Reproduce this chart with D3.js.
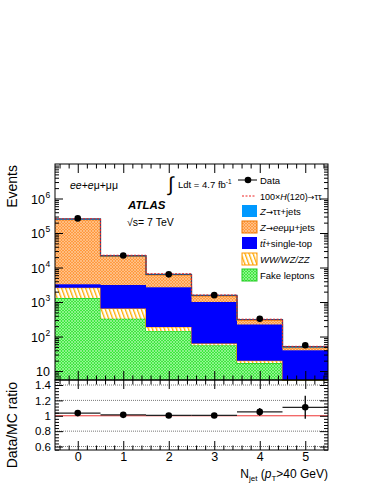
<!DOCTYPE html>
<html>
<head>
<meta charset="utf-8">
<script src="https://cdn.jsdelivr.net/npm/d3@7"></script>
<style>
  body { margin: 0; background: #fff; }
  svg { font-family: "Liberation Sans", Arial, sans-serif; }
  .arr { font-family: "DejaVu Sans", sans-serif; }
</style>
</head>
<body>
<svg id="chart" width="374" height="484"></svg>
<script>
// jet multiplicity bins
const bins = [0, 1, 2, 3, 4, 5];
// stacked backgrounds, bottom to top
const fake  = [1300, 330, 145, 56, 17, 2];
const diboson = [1300, 320, 45, 7, 3, 1];
const ttbar = [700, 2450, 2510, 940, 205, 37];
const zll   = [240000, 18000, 3400, 500, 75, 8];
const ztt   = [12000, 900, 250, 60, 12, 3];
const higgs100 = [3000, 700, 250, 40, 6, 1];
const dataVals = [265000, 22300, 6350, 1580, 325, 56];
// ratio panel
const ratio    = [1.035, 1.012, 1.004, 1.004, 1.05, 1.11];
const ratioErr = [0.005, 0.008, 0.012, 0.02, 0.05, 0.15];
const yTickLabels = [1, 2, 3, 4, 5, 6];
const ratioTicks = [0.6, 0.8, 1, 1.2, 1.4];

const svg = d3.select("#chart");
const pL = 55, pR = 328, pT = 164, pM = 380, pB = 450;

const x = d3.scaleLinear().domain([-0.5, 5.5]).range([pL, pR]);
const y = d3.scaleLog().domain([5.5, 1e7]).range([pM, pT]).clamp(true);
const yr = d3.scaleLinear().domain([0.555, 1.465]).range([pB, pM]);

// patterns
const defs = svg.append("defs");
function cross(id, base, line) {
  const p = defs.append("pattern").attr("id", id).attr("patternUnits", "userSpaceOnUse")
    .attr("width", 3).attr("height", 3);
  p.append("rect").attr("width", 3).attr("height", 3).attr("fill", base);
  p.append("path").attr("d", "M0,0L3,3M3,0L0,3").attr("stroke", line).attr("stroke-width", 0.6);
}
cross("pZll", "#ff9a40", "#ffd2a6");
cross("pFake", "#3ee83e", "#b8f8b8");
const ph = defs.append("pattern").attr("id", "pWW").attr("patternUnits", "userSpaceOnUse")
  .attr("width", 4).attr("height", 10).attr("patternTransform", "skewX(20)");
ph.append("rect").attr("width", 4).attr("height", 10).attr("fill", "#fff");
ph.append("rect").attr("width", 1.4).attr("height", 10).attr("fill", "#ffaa00");

const table = bins.map((b, i) => ({ bin: b, fake: fake[i], ww: diboson[i], tt: ttbar[i], zll: zll[i], ztt: ztt[i] }));
const layers = d3.stack().keys(["fake", "ww", "tt", "zll", "ztt"])(table);
const styles = {
  fake: { fill: "url(#pFake)", stroke: "#22cc22" },
  ww:   { fill: "url(#pWW)", stroke: "#ff9900" },
  tt:   { fill: "#0000ff", stroke: "#0000ee" },
  zll:  { fill: "url(#pZll)", stroke: "#ee7700" },
  ztt:  { fill: "#0099ff", stroke: "#1a5080" }
};

function stepPts(layer) {
  const pts = [];
  layer.forEach((d, i) => {
    pts.push({ x: bins[i] - 0.5, y0: Math.max(d[0], 1), y1: d[1] });
    pts.push({ x: bins[i] + 0.5, y0: Math.max(d[0], 1), y1: d[1] });
  });
  return pts;
}
const area = d3.area().x(d => x(d.x)).y0(d => y(d.y0)).y1(d => y(d.y1));
const topLine = d3.line().x(d => x(d.x)).y(d => y(d.y1));

const plot = svg.append("g");
layers.forEach(layer => {
  const pts = stepPts(layer);
  const st = styles[layer.key];
  plot.append("path").attr("d", area(pts)).attr("fill", st.fill).attr("stroke", "none");
  plot.append("path").attr("d", topLine(pts)).attr("fill", "none").attr("stroke", st.stroke).attr("stroke-width", 1.2);
});

// higgs x100 stacked on top
const totals = layers[layers.length - 1].map(d => d[1]);
const hPts = [];
bins.forEach((b, i) => { hPts.push({ x: b - 0.5, y1: totals[i] + higgs100[i] }); hPts.push({ x: b + 0.5, y1: totals[i] + higgs100[i] }); });
plot.append("path").attr("d", topLine(hPts)).attr("fill", "none")
  .attr("stroke", "#ee2222").attr("stroke-width", 1).attr("stroke-dasharray", "2,1.5");

// data points
bins.forEach((b, i) => {
  const e = Math.sqrt(dataVals[i]);
  plot.append("line").attr("x1", x(b)).attr("x2", x(b))
    .attr("y1", y(dataVals[i] - e)).attr("y2", y(dataVals[i] + e)).attr("stroke", "#000");
  plot.append("circle").attr("cx", x(b)).attr("cy", y(dataVals[i])).attr("r", 3.3).attr("fill", "#000");
});

// main frame and axes
svg.append("rect").attr("x", pL).attr("y", pT).attr("width", pR - pL).attr("height", pM - pT)
  .attr("fill", "none").attr("stroke", "#000");

const minorVals = y.ticks().filter(v => Math.abs(Math.log10(v) - Math.round(Math.log10(v))) > 1e-6);
const majorVals = yTickLabels.map(p => Math.pow(10, p));
svg.append("g").attr("transform", `translate(${pL},0)`)
  .call(d3.axisLeft(y).tickValues(minorVals).tickSize(-4).tickFormat(""));
svg.append("g").attr("transform", `translate(${pL},0)`)
  .call(d3.axisLeft(y).tickValues(majorVals).tickSize(-8).tickFormat(""));
svg.append("g").attr("transform", `translate(${pR},0)`)
  .call(d3.axisRight(y).tickValues(minorVals).tickSize(-4).tickFormat(""));
svg.append("g").attr("transform", `translate(${pR},0)`)
  .call(d3.axisRight(y).tickValues(majorVals).tickSize(-8).tickFormat(""));
svg.selectAll(".domain").remove();

// log labels
yTickLabels.forEach(p => {
  svg.append("text").attr("x", p === 1 ? 50 : 45).attr("y", y(Math.pow(10, p)) + 5)
    .attr("text-anchor", "end").attr("font-size", 12.5).text("10");
  if (p > 1) {
    svg.append("text").attr("x", 45.5).attr("y", y(Math.pow(10, p)) - 1)
      .attr("font-size", 8.5).text(p);
  }
});

// x ticks
const xMinor = d3.range(-0.4, 5.5, 0.2).filter(v => Math.abs(v - Math.round(v)) > 1e-6);
function xTicks(yb, yt) {
  svg.append("g").attr("transform", `translate(0,${yb})`)
    .call(d3.axisBottom(x).tickValues(bins).tickSize(-9).tickFormat(""));
  svg.append("g").attr("transform", `translate(0,${yb})`)
    .call(d3.axisBottom(x).tickValues(xMinor).tickSize(-4.5).tickFormat(""));
  svg.append("g").attr("transform", `translate(0,${yt})`)
    .call(d3.axisTop(x).tickValues(bins).tickSize(-9).tickFormat(""));
  svg.append("g").attr("transform", `translate(0,${yt})`)
    .call(d3.axisTop(x).tickValues(xMinor).tickSize(-4.5).tickFormat(""));
}
xTicks(pM, pT);

// ratio panel
const rp = svg.append("g");
ratioTicks.filter(v => v !== 1).forEach(v => {
  rp.append("line").attr("x1", pL).attr("x2", pR).attr("y1", yr(v)).attr("y2", yr(v))
    .attr("stroke", "#777").attr("stroke-dasharray", "1,1");
});
rp.append("line").attr("x1", pL).attr("x2", pR).attr("y1", yr(1)).attr("y2", yr(1))
  .attr("stroke", "#ee3333").attr("stroke-width", 1);
bins.forEach((b, i) => {
  rp.append("line").attr("x1", x(b - 0.5)).attr("x2", x(b + 0.5)).attr("y1", yr(ratio[i])).attr("y2", yr(ratio[i]))
    .attr("stroke", "#222").attr("stroke-width", 1.3);
  rp.append("line").attr("x1", x(b)).attr("x2", x(b)).attr("y1", yr(ratio[i] - ratioErr[i])).attr("y2", yr(ratio[i] + ratioErr[i]))
    .attr("stroke", "#000").attr("stroke-width", 1.3);
  rp.append("circle").attr("cx", x(b)).attr("cy", yr(ratio[i])).attr("r", 3.3).attr("fill", "#000");
});
svg.append("rect").attr("x", pL).attr("y", pM).attr("width", pR - pL).attr("height", pB - pM)
  .attr("fill", "none").attr("stroke", "#000");
const rMinor = d3.range(0.56, 1.465, 0.04).filter(v => Math.abs(v * 5 - Math.round(v * 5)) > 1e-6);
svg.append("g").attr("transform", `translate(${pL},0)`)
  .call(d3.axisLeft(yr).tickValues(ratioTicks).tickSize(-8).tickPadding(4).tickFormat(d3.format("")))
  .call(g => g.selectAll("text").attr("font-size", 11.5).attr("font-family", "Liberation Sans, Arial").attr("fill", "#000").attr("x", -4));
svg.append("g").attr("transform", `translate(${pL},0)`)
  .call(d3.axisLeft(yr).tickValues(rMinor).tickSize(-4).tickFormat(""));
svg.append("g").attr("transform", `translate(${pR},0)`)
  .call(d3.axisRight(yr).tickValues(ratioTicks).tickSize(-8).tickFormat(""));
svg.append("g").attr("transform", `translate(${pR},0)`)
  .call(d3.axisRight(yr).tickValues(rMinor).tickSize(-4).tickFormat(""));
xTicks(pB, pM);
svg.append("g").attr("transform", `translate(0,${pB})`)
  .call(d3.axisBottom(x).tickValues(bins).tickSize(0).tickPadding(2).tickFormat(d3.format("d")))
  .call(g => g.selectAll("text").attr("font-size", 12.5).attr("font-family", "Liberation Sans, Arial").attr("fill", "#000"));
svg.selectAll(".domain").remove();

// axis titles
svg.append("text").attr("transform", "translate(17,165) rotate(-90)").attr("text-anchor", "end")
  .attr("font-size", 14).text("Events");
svg.append("text").attr("transform", "translate(17,382) rotate(-90)").attr("text-anchor", "end")
  .attr("font-size", 14).text("Data/MC ratio");
const xt = svg.append("text").attr("x", pR).attr("y", 478).attr("text-anchor", "end").attr("font-size", 12);
xt.append("tspan").text("N");
xt.append("tspan").attr("font-size", 8).attr("dy", 2.5).text("jet");
xt.append("tspan").attr("dy", -2.5).text(" (");
xt.append("tspan").attr("font-style", "italic").text("p");
xt.append("tspan").attr("font-size", 8).attr("dy", 2.5).text("T");
xt.append("tspan").attr("dy", -2.5).text(">40 GeV)");

// annotations
const ch = svg.append("text").attr("x", 70).attr("y", 189).attr("font-size", 10.5);
ch.append("tspan").attr("font-style", "italic").text("ee");
ch.append("tspan").text("+");
ch.append("tspan").attr("font-style", "italic").text("e");
ch.append("tspan").text("μ+μμ");
svg.append("text").attr("x", 128).attr("y", 209).attr("font-size", 11.5).attr("font-weight", "bold")
  .attr("font-style", "italic").text("ATLAS");
svg.append("text").attr("x", 127).attr("y", 226).attr("font-size", 10.5).text("√s= 7 TeV");
svg.append("text").attr("x", 168).attr("y", 191).attr("font-size", 20).text("∫");
const lum = svg.append("text").attr("x", 178).attr("y", 188).attr("font-size", 9.5);
lum.append("tspan").text("Ldt = 4.7 fb");
lum.append("tspan").attr("font-size", 6.5).attr("dy", -4).text("-1");

// legend
const lg = svg.append("g");
const lx = 242, ltx = 260;
lg.append("line").attr("x1", lx - 4).attr("x2", lx + 15).attr("y1", 180).attr("y2", 180).attr("stroke", "#000");
lg.append("circle").attr("cx", lx + 6).attr("cy", 180).attr("r", 3.3).attr("fill", "#000");
lg.append("text").attr("x", ltx).attr("y", 183.5).attr("font-size", 9.5).text("Data");
lg.append("line").attr("x1", lx).attr("x2", lx + 14).attr("y1", 196).attr("y2", 196)
  .attr("stroke", "#ee2222").attr("stroke-dasharray", "2,1.5");
const ht = lg.append("text").attr("x", ltx).attr("y", 199.5).attr("font-size", 9);
ht.append("tspan").text("100×");
ht.append("tspan").attr("font-style", "italic").text("H");
ht.append("tspan").text("(120)");
ht.append("tspan").attr("class", "arr").attr("font-size", 8).text("→");
ht.append("tspan").text("ττ");
const entries = [
  { key: "ztt", y: 211, parts: [["Z", "i"], ["→", "a"], ["ττ+jets", ""]] },
  { key: "zll", y: 227, parts: [["Z", "i"], ["→", "a"], ["ee", "i"], ["μμ+jets", ""]] },
  { key: "tt", y: 243, parts: [["tt̄", "i"], ["+single-top", ""]] },
  { key: "ww", y: 259, parts: [["WW/WZ/ZZ", "i"]] },
  { key: "fake", y: 275, parts: [["Fake leptons", ""]] }
];
entries.forEach(e => {
  lg.append("rect").attr("x", lx).attr("y", e.y - 6).attr("width", 15).attr("height", 12)
    .attr("fill", styles[e.key].fill).attr("stroke", e.key === "tt" || e.key === "ztt" ? "none" : styles[e.key].stroke);
  const t = lg.append("text").attr("x", ltx).attr("y", e.y + 3.5).attr("font-size", 9.5);
  e.parts.forEach(p => {
    const s = t.append("tspan").text(p[0]);
    if (p[1] === "i") s.attr("font-style", "italic");
    if (p[1] === "a") s.attr("class", "arr").attr("font-size", 8.5);
  });
});
</script>
</body>
</html>
